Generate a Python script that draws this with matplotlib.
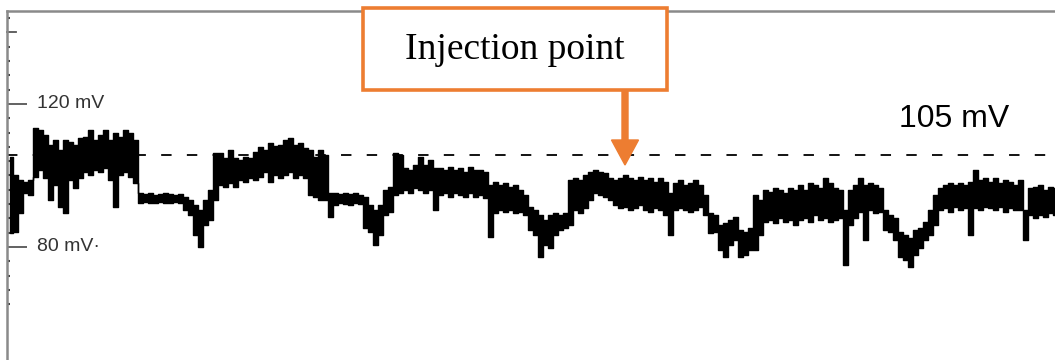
import numpy as np
import matplotlib
matplotlib.use("Agg")
import matplotlib.pyplot as plt
from matplotlib.patches import Rectangle, FancyArrow
from matplotlib.transforms import IdentityTransform

plt.rcParams['lines.scale_dashes'] = False

# ---------------- data (mV) ----------------
# upper / lower envelope of the recorded trace, one reading per sample
trace_top = [105.2, 100.1, 98.7, 98.2, 98.7, 113.3, 112.7, 111.3, 108.5, 109.9,
             107.1, 109.9, 109.4, 108.5, 110.5, 110.8, 112.7, 109.9, 111.3, 112.7,
             109.9, 111.9, 110.8, 112.7, 111.9, 109.9, 95.1, 94.8, 95.1, 94.5,
             94.8, 95.1, 94.8, 94.5, 94.8, 94.0, 93.1, 91.7, 90.3, 93.1,
             95.9, 106.3, 106.3, 104.9, 107.1, 104.9, 104.3, 105.2, 104.9, 106.6,
             108.0, 107.1, 109.1, 108.3, 108.5, 109.9, 110.5, 108.5, 109.1, 107.7,
             107.1, 105.2, 107.1, 105.7, 95.1, 95.1, 94.8, 95.1, 94.8, 95.1,
             94.5, 94.0, 91.7, 90.3, 91.7, 95.9, 96.8, 106.3, 105.7, 102.1,
             101.5, 102.9, 105.2, 102.9, 104.3, 102.1, 102.1, 101.5, 102.4, 101.5,
             102.1, 101.0, 102.4, 101.5, 101.5, 101.0, 97.3, 98.2, 97.3, 97.9,
             96.8, 97.3, 95.9, 94.5, 91.2, 90.3, 88.9, 87.6, 88.9, 89.5,
             88.9, 89.5, 98.7, 99.3, 98.7, 100.1, 101.0, 101.5, 101.0, 100.7,
             99.3, 98.7, 99.3, 100.1, 99.3, 98.7, 99.6, 98.7, 99.3, 98.2,
             99.3, 98.2, 95.1, 97.9, 98.7, 97.3, 97.9, 98.7, 97.3, 94.5,
             89.5, 88.9, 86.2, 86.7, 87.6, 88.4, 84.8, 84.2, 85.3, 94.5,
             93.1, 95.9, 95.4, 96.5, 95.9, 95.1, 96.5, 95.9, 97.3, 95.9,
             97.9, 97.3, 96.5, 99.3, 97.9, 96.5, 95.9, 90.3, 95.9, 97.3,
             99.3, 97.3, 97.9, 97.3, 96.5, 90.3, 88.9, 88.1, 84.2, 83.4,
             82.5, 84.8, 85.3, 87.0, 90.3, 94.5, 96.5, 97.3, 97.9, 97.3,
             97.9, 97.3, 98.2, 101.5, 98.7, 99.3, 98.2, 99.3, 97.9, 98.7,
             98.2, 97.3, 98.7, 90.3, 96.5, 96.8, 97.3, 95.9, 96.8, 96.5]

trace_bot = [83.9, 84.2, 89.5, 95.1, 94.5, 99.6, 101.5, 99.3, 93.1, 97.3,
             91.2, 89.5, 98.7, 96.5, 99.3, 101.0, 100.1, 101.5, 101.0, 102.1,
             98.7, 91.2, 100.1, 101.0, 99.6, 97.9, 92.3, 92.6, 92.3, 92.3,
             92.6, 92.3, 92.3, 92.6, 92.3, 90.3, 88.9, 83.4, 80.0, 86.2,
             87.6, 93.1, 97.3, 96.8, 97.9, 96.8, 98.7, 98.2, 99.3, 98.7,
             99.6, 101.0, 98.2, 100.1, 99.3, 100.1, 101.0, 99.3, 100.1, 99.3,
             94.5, 94.0, 93.1, 93.1, 88.4, 91.7, 92.3, 92.0, 91.7, 92.3,
             92.0, 85.3, 84.2, 80.6, 83.4, 88.9, 89.8, 94.5, 95.1, 95.9,
             95.1, 96.5, 95.9, 95.1, 95.9, 90.3, 94.5, 95.1, 94.0, 95.1,
             94.5, 94.0, 95.1, 94.0, 94.5, 93.7, 82.8, 89.5, 90.3, 89.8,
             90.3, 89.5, 89.8, 88.9, 84.8, 83.4, 77.2, 80.6, 79.7, 83.4,
             84.8, 85.3, 86.2, 90.3, 89.5, 90.9, 93.1, 95.1, 94.5, 94.0,
             93.1, 91.7, 90.9, 91.2, 90.3, 90.9, 91.7, 90.3, 89.8, 90.9,
             90.3, 88.9, 83.4, 90.3, 90.9, 90.3, 89.8, 90.3, 91.2, 88.9,
             83.9, 84.2, 79.2, 77.2, 80.6, 82.0, 77.2, 77.8, 79.2, 79.2,
             83.4, 87.0, 87.6, 86.7, 88.1, 87.0, 87.6, 86.2, 87.6, 88.1,
             87.0, 88.9, 87.6, 88.1, 87.0, 87.6, 88.1, 75.0, 86.2, 88.1,
             89.8, 82.0, 90.3, 89.5, 89.8, 84.8, 84.2, 82.0, 77.2, 76.4,
             74.4, 77.8, 79.7, 82.0, 83.4, 86.2, 90.3, 90.9, 89.8, 91.2,
             90.3, 90.9, 83.4, 90.9, 90.3, 91.2, 90.9, 90.3, 91.2, 89.8,
             90.9, 90.3, 90.3, 82.0, 88.9, 88.1, 88.9, 88.4, 89.5, 88.9]

ref_level = 105.6          # dashed reference line
ref_label = "105 mV"
major_ticks = [120, 80]
major_labels = ["120 mV", "80 mV\u00b7"]
upper_tick = 140
minor_ticks = [v for v in range(64, 148, 4) if v not in (80, 120, 140)]
annot_text = "Injection point"

ORANGE = "#ED7D31"
GRAY = "#8a8a8a"

# ---------------- figure ----------------
W, H = 1055, 360
fig = plt.figure(figsize=(W / 100, H / 100), dpi=100)
ax = fig.add_axes([7 / W, 0, 1048 / W, 349 / H])

t = np.arange(len(trace_top))
ax.fill_between(t, trace_bot, trace_top, step='mid', color='black',
                linewidth=1.0, edgecolor='black', zorder=3)

ax.set_xlim(-0.6, 209.0)
ax.set_ylim(48.39, 146.0)

# dashed reference line
ax.hlines(ref_level, -0.6, 209.0, colors='black', linewidth=1.3,
          linestyles=(0, (7.5, 11.0)), zorder=2)

# spines
for s in ['right', 'bottom']:
    ax.spines[s].set_visible(False)
for s in ['left', 'top']:
    ax.spines[s].set_color(GRAY)
    ax.spines[s].set_linewidth(1.8)
ax.set_xticks([])

ax.set_yticks(major_ticks)
ax.set_yticklabels([])
ax.set_yticks(minor_ticks, minor=True)
ax.tick_params(axis='y', which='major', direction='in', length=14.5,
               width=1.3, color='#555555')
ax.tick_params(axis='y', which='minor', direction='in', length=2.0,
               width=1.5, color='#444444')

ytr = ax.get_yaxis_transform()
ax.plot([0, 9 / 1048], [upper_tick, upper_tick], transform=ytr,
        color='#555555', lw=1.3, clip_on=False)
for v, lab in zip(major_ticks, major_labels):
    ax.text(30 / 1048, v, lab, transform=ytr, ha='left', va='center',
            fontsize=14, color='#333333', family='Liberation Sans')

ax.text(188.8, ref_level + 10.3, ref_label, ha='center', va='center',
        fontsize=23, color='black', family='Liberation Sans')

# annotation box + arrow (pixel coordinates, origin bottom-left)
pix = IdentityTransform()
box = Rectangle((363, H - 90), 304, 82, transform=pix, facecolor='white',
                edgecolor=ORANGE, linewidth=2.6, zorder=10)
fig.add_artist(box)
fig.text(515 / W, 1 - 50 / H, annot_text, ha='center', va='center',
         fontsize=27, family='Liberation Serif', color='black', zorder=11)
arr = FancyArrow(625, H - 90, 0, -75, width=6, head_width=27, head_length=25,
                 length_includes_head=True, color=ORANGE, transform=pix,
                 zorder=9)
fig.add_artist(arr)

fig.savefig("out.png", dpi=100, facecolor='white')
